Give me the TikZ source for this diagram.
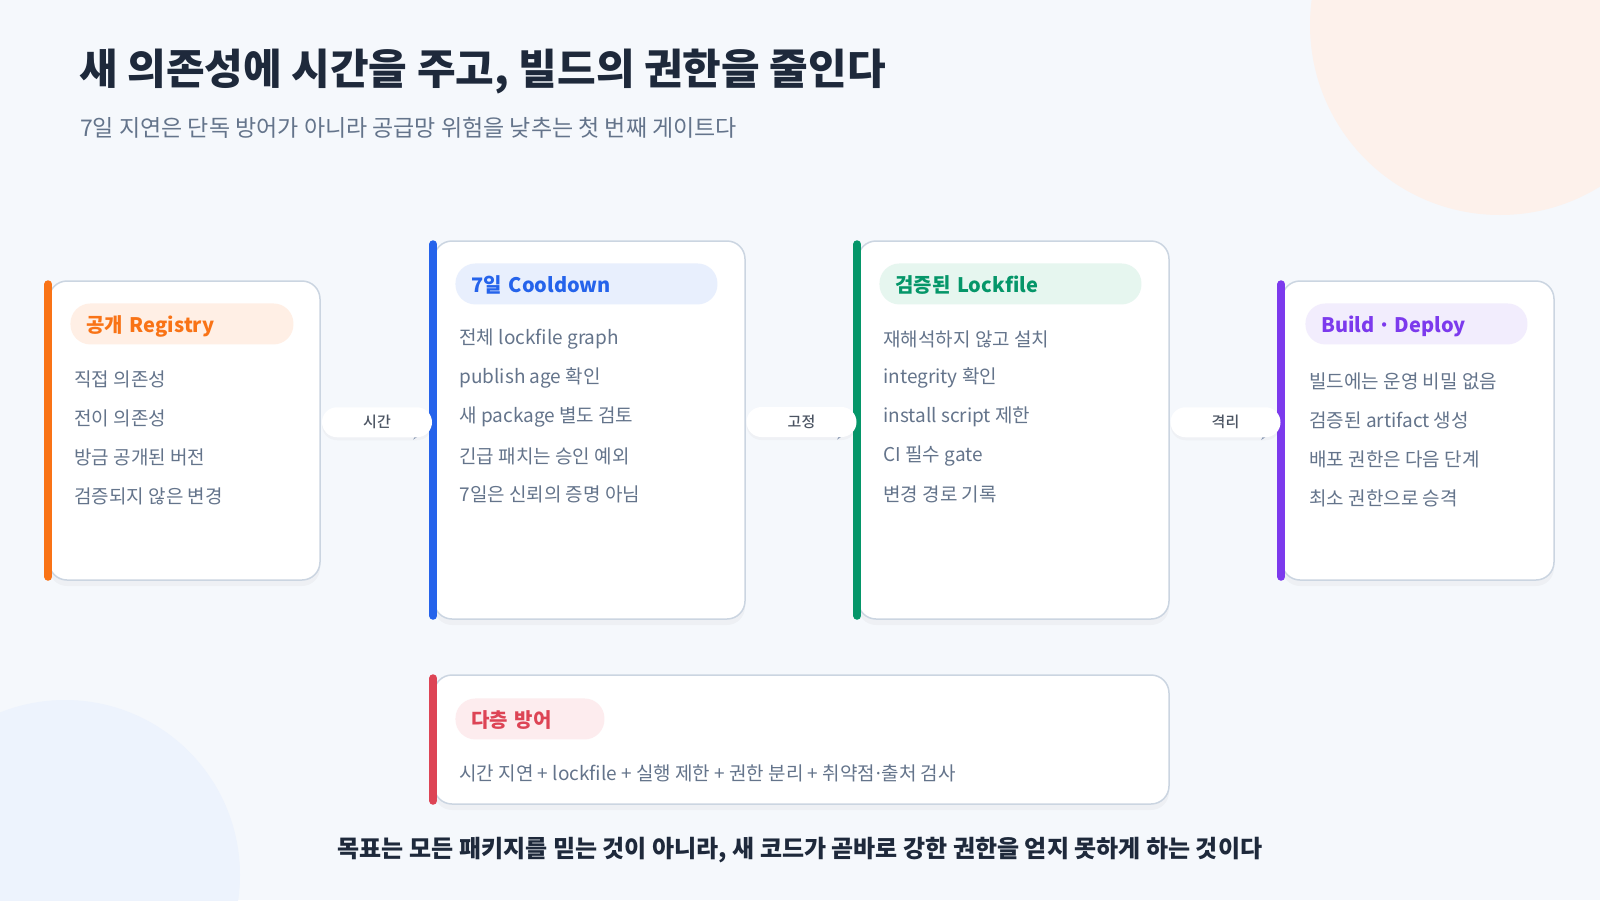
\documentclass[tikz,border=0pt]{standalone}
\usepackage{fontspec}
\setmainfont{Noto Sans CJK KR}
\IfFontExistsTF{Noto Sans CJK KR Black}{\newfontfamily\heavy{Noto Sans CJK KR Black}}{\newfontfamily\heavyfam{Noto Sans CJK KR}[BoldFeatures={FakeBold=1.3}]\newcommand\heavy{\heavyfam\bfseries}}
\IfFontExistsTF{Noto Sans CJK KR Medium}{\newfontfamily\medium{Noto Sans CJK KR Medium}}{\newcommand\medium{\bfseries}}
\newcommand\middot{\makebox[0.35em]{·}}
\usetikzlibrary{arrows.meta,shadows}
\definecolor{bg}{HTML}{F5F8FC}
\definecolor{ink}{HTML}{1E293B}
\definecolor{muted}{HTML}{64748B}
\definecolor{edge}{HTML}{CBD5E1}
\definecolor{arrowgray}{HTML}{8A9AB5}
\definecolor{peach}{HTML}{FDF1EB}
\definecolor{skyish}{HTML}{EDF3FD}
\definecolor{orng}{HTML}{F97316}
\definecolor{orngpill}{HTML}{FFEFE5}
\definecolor{blu}{HTML}{2563EB}
\definecolor{blupill}{HTML}{E8EFFD}
\definecolor{grn}{HTML}{059669}
\definecolor{grnpill}{HTML}{E6F6EF}
\definecolor{prpl}{HTML}{7C3AED}
\definecolor{prplpill}{HTML}{F2EDFD}
\definecolor{rd}{HTML}{DD4455}
\definecolor{rdpill}{HTML}{FDECEE}

\begin{document}
\begin{tikzpicture}[x=1pt,y=-1pt,
    card/.style={draw=edge,line width=1.5pt,fill=white,rounded corners=18pt,inner sep=0pt,
      drop shadow={opacity=0.06,shadow xshift=0pt,shadow yshift=-6pt}},
    bar/.style={line width=8pt,line cap=round,shorten <=4pt,shorten >=4pt},
    pill/.style={rounded corners=20pt,minimum height=41pt,inner xsep=16pt,inner ysep=0pt,
      text depth=0pt,align=left,anchor=north west,font=\bfseries\fontsize{20}{24}\selectfont},
    item/.style={anchor=west,inner sep=0pt,text=muted,font=\fontsize{19}{23}\selectfont},
    flow/.style={arrowgray,line width=1.5pt,-{Stealth[length=14pt,width=19pt]},shorten <=4pt,shorten >=6pt},
    tag/.style={fill=white,rounded corners=15pt,minimum width=110pt,minimum height=30pt,
      yshift=8pt,text=ink!80,font=\medium\fontsize{15}{18}\selectfont,
      drop shadow={opacity=0.05,shadow xshift=0pt,shadow yshift=-3pt}}]
    \useasboundingbox (0,0) rectangle (1600,900);
    \fill[bg] (0,0) rectangle (1600,900);
    \fill[peach] (1500,25) circle (190pt);
    \fill[skyish] (65,875) circle (175pt);
    % heading
    \node[anchor=west,inner sep=0pt,text=ink,font=\heavy\fontsize{42}{50}\selectfont] (title) at (79,72) {새 의존성에 시간을 주고, 빌드의 권한을 줄인다};
    \node[anchor=west,inner sep=0pt,text=muted,font=\fontsize{23}{27}\selectfont] (subtitle) at (80,128) {7일 지연은 단독 방어가 아니라 공급망 위험을 낮추는 첫 번째 게이트다};
    % cards
    \node[card,minimum width=271pt,minimum height=299pt] (reg) at (184.5,430.5) {};
    \node[card,minimum width=311pt,minimum height=378pt] (cool) at (589.5,430) {};
    \node[card,minimum width=311pt,minimum height=378pt] (lock) at (1013.5,430) {};
    \node[card,minimum width=272pt,minimum height=299pt] (deploy) at (1418,430.5) {};
    \node[card,minimum width=735pt,minimum height=129pt] (layers) at (801.5,739.5) {};
    \draw[bar,orng] (reg.north west) -- (reg.south west);
    \draw[bar,blu] (cool.north west) -- (cool.south west);
    \draw[bar,grn] (lock.north west) -- (lock.south west);
    \draw[bar,prpl] (deploy.north west) -- (deploy.south west);
    \draw[bar,rd] (layers.north west) -- (layers.south west);
    % card titles
    \node[pill,fill=orngpill,text=orng,text width=191pt] (reg-title) at ([shift={(22,23)}]reg.north west) {공개 Registry};
    \node[pill,fill=blupill,text=blu,text width=230pt] (cool-title) at ([shift={(22,23)}]cool.north west) {7일 Cooldown};
    \node[pill,fill=grnpill,text=grn,text width=230pt] (lock-title) at ([shift={(22,23)}]lock.north west) {검증된 Lockfile};
    \node[pill,fill=prplpill,text=prpl,text width=190pt] (deploy-title) at ([shift={(24,23)}]deploy.north west) {Build \middot{} Deploy};
    \node[pill,fill=rdpill,text=rd,text width=117pt] (layers-title) at ([shift={(22,24)}]layers.north west) {다층 방어};
    % card lines
    \foreach \t [count=\i from 0] in {직접 의존성,전이 의존성,방금 공개된 버전,검증되지 않은 변경}
        \node[item] (reg-\i) at ([shift={(26,99+38.9*\i)}]reg.north west) {\t};
    \foreach \t [count=\i from 0] in {전체 lockfile graph,publish age 확인,새 package 별도 검토,긴급 패치는 승인 예외,7일은 신뢰의 증명 아님}
        \node[item] (cool-\i) at ([shift={(26,99+38.9*\i)}]cool.north west) {\t};
    \foreach \t [count=\i from 0] in {재해석하지 않고 설치,integrity 확인,install script 제한,CI 필수 gate,변경 경로 기록}
        \node[item] (lock-\i) at ([shift={(26,99+38.9*\i)}]lock.north west) {\t};
    \foreach \t [count=\i from 0] in {빌드에는 운영 비밀 없음,검증된 artifact 생성,배포 권한은 다음 단계,최소 권한으로 승격}
        \node[item] (deploy-\i) at ([shift={(28,101+38.9*\i)}]deploy.north west) {\t};
    \node[item] (layers-0) at ([shift={(26,99)}]layers.north west) {시간 지연 + lockfile + 실행 제한 + 권한 분리 + 취약점\middot{}출처 검사};
    % connectors
    \draw[flow] (reg.east) -- node[tag] (tag-time) {시간} (cool.west);
    \draw[flow] (cool.east) -- node[tag] (tag-pin) {고정} (lock.west);
    \draw[flow] (lock.east) -- node[tag] (tag-iso) {격리} (deploy.west);
    % goal
    \node[inner sep=0pt,text=ink,font=\bfseries\fontsize{24}{28}\selectfont] (goal) at (800,850) {목표는 모든 패키지를 믿는 것이 아니라, 새 코드가 곧바로 강한 권한을 얻지 못하게 하는 것이다};
\end{tikzpicture}
\end{document}
